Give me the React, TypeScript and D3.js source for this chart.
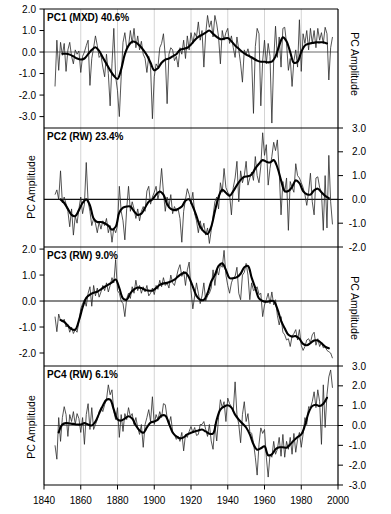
import React from "react";
import * as d3 from "d3";

// ---------- DATA ----------
const startYear = 1846;
const endYear = 1997;

const pc1Annual = [
  -1.6, 0.55, -0.85, 0.45,
  -0.15, 0.4, -0.9, 0.1, 0.45, -0.2, -0.55, 0.1, -0.1, 0.05,
  -0.95, -0.2, 0.0, 0.3, 0.55, -1.55, -0.3, 0.2, 0.75, 0.3,
  -0.25, -0.15, -0.7, -1.15, -0.1, -1.0, -2.5, -0.55, 1.1, -1.15,
  -1.8, -3.0, -1.15, 0.45, 0.9, 0.2, 0.25, 1.0, 0.4, 1.1,
  0.2, 0.75, 0.1, 0.5, -0.1, -0.3, -0.95, -0.2, -0.7, -3.1,
  -1.15, -0.55, -0.7, 0.2, 0.4, 0.85, -0.2, -2.4, -0.1, 0.2,
  0.1, -0.4, -0.2, -0.7, 0.2, -0.1, 0.55, -0.3, 0.75, 0.1,
  0.9, 0.4, 0.9, 0.7, 1.4, 0.55, 1.0, -0.7, 0.85, 1.7,
  1.15, 1.45, 0.7, 1.7, 1.3, 0.7, -0.55, 1.0, 0.55, 0.9,
  1.1, 0.4, 0.75, 0.2, -0.25, 0.7, 0.1, -0.55, -1.4, 0.1,
  -0.1, 0.15, -0.25, -0.3, -2.85, 0.25, 1.1, 0.85, -2.5, -0.4,
  0.55, -0.55, 0.4, -0.2, -3.3, -0.4, 1.2, -0.25, 0.7, -0.7,
  1.1, 1.15, 0.4, -0.85, -0.3, -1.6, -0.4, 0.1, -0.7, 1.5,
  -0.9, 0.85, 0.4, 1.0, 0.1, 1.1, 0.4, 1.0, 0.2, 1.1,
  0.55, 0.9, 0.4, 1.15, 0.85, -1.3, 0.2, 0.7,
];

const pc2Annual = [
  0.2, 0.4, 0.0, 1.2,
  -0.15, 0.1, -0.2, -0.5, -1.15, -0.4, -1.5, -0.7, -1.0, -0.4,
  0.1, -0.6, -0.2, 1.55, -0.1, -0.5, -1.1, -0.8, -1.0, -1.4,
  -0.95, -1.25, -0.9, -1.1, -0.8, -1.4, -1.1, -1.8, -1.2, -1.4,
  -1.1, 0.55, -0.5, -0.9, -1.7, -0.4, 0.55, -0.5, -0.1, -0.4,
  -0.8, -0.4, -0.9, -0.5, -0.3, -0.5, 0.35, 0.55, -0.2, 0.1,
  0.3, 0.55, 0.0, 0.4, 1.3, 0.3, -0.5, 0.1, -0.3, 0.2,
  -0.6, -0.3, -0.5, -0.4, -0.8, -1.8, -0.5, 0.0, 0.45, 0.2,
  -0.2, 0.3, -0.6, -0.9, -1.4, -0.9, -1.3, -1.0, -1.5, -1.2,
  -1.85, -1.3, -0.7, -0.1, 0.1, -0.4, 0.7, 0.3, 1.3, 0.5,
  0.3, 0.2, -0.65, 0.5, 0.9, 1.6, -0.1, 1.2, 0.7, 1.0,
  1.6, 0.6, 0.9, 1.15, 0.8, 1.8, 1.0, 0.7, 1.4, 2.8,
  1.85, 2.3, 0.6, 1.3, 1.8, 2.4, 2.05, 2.5, 1.2, -0.65,
  0.75, 0.3, 0.9, -1.3, 0.75, 0.5, 0.3, 1.5, 1.0, 0.9,
  0.7, 0.5, 0.2, -0.25, 0.3, 1.1, -0.1, -0.65, 0.9, 0.95,
  0.5, 0.3, -1.3, 1.0, -1.2, 1.85, -0.1, -1.05,
];

const pc3Annual = [
  -0.6, -1.18, -0.5, -0.75,
  -0.8, -0.7, -1.0, -0.9, -1.2, -1.0, -1.25, -1.1, -1.2, -0.8,
  -0.3, -0.1, 0.05, -0.2, 0.3, 0.55, -0.2, 0.6, 0.2, 0.5,
  0.15, 0.35, 0.6, 0.4, 0.7, 0.35, 0.6, 0.9, 0.7, 1.6,
  0.4, 0.3, 0.0, -0.1, -0.6, 0.1, 0.3, 0.1, 0.55, 0.3,
  0.8, 0.4, 0.6, 0.3, 0.55, 0.35, 0.6, 0.2, 0.3, 0.5,
  0.25, 0.6, 0.45, 0.8, 0.55, 0.9, 0.6, 0.7, 0.5, 1.0,
  0.7, 0.6, 0.9, 1.2, 1.4, 0.95, 1.15, 0.6, 1.2, 1.5,
  0.4, -0.3, 0.2, 0.7, 0.3, -0.1, 0.2, 0.7, 0.0, 0.2,
  0.3, 0.5, 1.2, 0.6, 1.2, 1.0, 1.4, 1.3, 1.95, 1.0,
  0.6, 0.3, 0.7, 0.9, 0.95, 1.3, 0.3, 0.05, 1.0, 1.1,
  1.45, 1.0, 0.05, 0.7, 0.4, 0.45, 0.55, 0.25, 0.3, -0.6,
  -0.15, 0.05, 0.3, -0.1, 0.35, -0.15, 0.05, -0.55, -0.92, -0.6,
  -1.2, -1.3, -1.5, -1.45, -1.75, -1.35, -1.25, -1.1, -1.5, -1.1,
  -1.7, -1.9, -1.75, -1.5, -1.45, -1.6, -1.3, -1.2, -1.7, -1.45,
  -1.75, -1.6, -1.8, -1.75, -1.9, -1.95, -2.0, -2.2,
];

const pc4Annual = [
  -1.0, -1.7, 0.4, -0.8,
  0.4, 0.95, 0.55, -0.55, 0.55, 0.2, 0.7, 0.05, 0.6, 0.35,
  -0.35, 0.4, -0.95, 0.55, 1.1, -0.2, 0.9, -0.2, 0.05, 0.3,
  0.7, 0.9, 0.7, 1.05, 1.3, 2.05, 1.55, 1.8, 0.7, 0.3,
  0.9, -0.6, 0.55, -0.3, 0.6, 0.3, 0.9, 0.45, 0.6, 0.05,
  0.4, -0.1, -0.45, 0.05, -1.1, 0.05, 0.4, 0.8, 0.2, 1.45,
  0.05, 0.55, 0.3, 0.7, 0.4, 1.1, 1.05, 0.4, 0.05, 0.45,
  -0.3, -0.45, -0.7, -0.55, -0.8, -0.35, -1.28, -0.45, -0.6, -0.3,
  -0.05, -0.35, -0.1, -0.5, -0.45, 0.05, 0.05, 0.2, -0.2, -0.55,
  0.05, -0.78, -1.2, 0.05, -0.78, 0.4, 1.3, 0.9, 1.2, 0.2,
  1.38, 1.1, 0.95, 0.7, 2.2, 0.55, 0.05, -0.87, 0.55, 1.2,
  0.2, 0.6, -0.3, -0.4, -0.87, -1.6, -2.5, -0.95, -0.12, -0.4,
  -0.2, -1.6, -2.6, -1.45, -1.6, -0.8, -1.45, -1.2, -0.6, -1.55,
  -0.45, -1.6, -0.8, -1.2, -0.6, -1.45, -0.4, -1.35, -0.7, -0.35,
  -1.1, -0.45, 0.4, 0.05, 0.95, 0.9, 1.2, 1.7, 0.9, 1.8,
  1.2, -0.95, 2.05, -0.1, 1.55, 2.45, 2.8, 1.9,
];

const pc1Smooth: [number, number][] = [
  [1850, -0.08], [1852, -0.08], [1854, -0.12], [1856, -0.2], [1858, -0.3], [1860, -0.35],
  [1862, -0.3], [1864, -0.1], [1866, 0.1], [1868, 0.22], [1870, 0.05], [1872, -0.25],
  [1874, -0.55], [1876, -0.85], [1878, -1.1], [1880, -1.25], [1882, -0.8], [1884, -0.1],
  [1886, 0.3], [1888, 0.48], [1890, 0.45], [1892, 0.3], [1894, 0.1], [1896, -0.15],
  [1898, -0.5], [1900, -0.85], [1902, -0.75], [1904, -0.5], [1906, -0.35], [1908, -0.3],
  [1910, -0.2], [1912, -0.1], [1914, 0.1], [1916, 0.15], [1918, 0.2], [1920, 0.35],
  [1922, 0.55], [1924, 0.7], [1926, 0.8], [1928, 0.9], [1930, 1.0], [1932, 0.85],
  [1934, 0.7], [1936, 0.6], [1938, 0.62], [1940, 0.65], [1942, 0.5], [1944, 0.3],
  [1946, 0.15], [1948, 0.0], [1950, -0.12], [1952, -0.2], [1954, -0.3], [1956, -0.4],
  [1958, -0.45], [1960, -0.45], [1962, -0.48], [1964, -0.45], [1966, -0.2], [1968, 0.3],
  [1970, 0.68], [1972, 0.5], [1974, 0.0], [1976, -0.5], [1978, -0.45], [1980, 0.0],
  [1982, 0.3], [1984, 0.38], [1986, 0.42], [1988, 0.45], [1990, 0.45], [1992, 0.45],
  [1994, 0.4],
];

const pc2Smooth: [number, number][] = [
  [1849, 0.0], [1851, -0.15], [1853, -0.4], [1855, -0.65], [1857, -0.7], [1859, -0.45],
  [1861, -0.15], [1863, 0.0], [1865, -0.25], [1867, -0.8], [1869, -0.95], [1871, -0.95],
  [1873, -1.0], [1875, -1.1], [1877, -1.27], [1879, -1.15], [1881, -0.55], [1883, -0.35],
  [1885, -0.3], [1887, -0.3], [1889, -0.5], [1891, -0.65], [1893, -0.6], [1895, -0.35],
  [1897, -0.1], [1899, 0.0], [1901, 0.2], [1903, 0.33], [1905, 0.2], [1907, -0.2],
  [1909, -0.4], [1911, -0.45], [1913, -0.4], [1915, -0.3], [1917, -0.05], [1919, 0.0],
  [1921, -0.3], [1923, -0.7], [1925, -1.15], [1927, -1.35], [1929, -1.45], [1931, -1.15],
  [1933, -0.5], [1935, 0.1], [1937, 0.4], [1939, 0.28], [1941, 0.15], [1943, 0.35],
  [1945, 0.6], [1947, 0.82], [1949, 0.95], [1951, 0.97], [1953, 1.05], [1955, 1.3],
  [1957, 1.5], [1959, 1.65], [1961, 1.58], [1963, 1.55], [1965, 1.65], [1967, 1.35],
  [1969, 0.8], [1971, 0.35], [1973, 0.35], [1975, 0.52], [1977, 0.8], [1979, 0.68],
  [1981, 0.35], [1983, 0.22], [1985, 0.2], [1987, 0.38], [1989, 0.45], [1991, 0.3],
  [1993, 0.15], [1995, 0.05],
];

const pc3Smooth: [number, number][] = [
  [1849, -0.73], [1851, -0.8], [1853, -0.95], [1855, -1.08], [1857, -1.1], [1859, -0.75],
  [1861, -0.25], [1863, 0.12], [1865, 0.25], [1867, 0.32], [1869, 0.36], [1871, 0.45],
  [1873, 0.55], [1875, 0.63], [1877, 0.72], [1879, 0.83], [1881, 0.5], [1883, 0.1],
  [1885, 0.05], [1887, 0.3], [1889, 0.45], [1891, 0.52], [1893, 0.5], [1895, 0.43],
  [1897, 0.4], [1899, 0.4], [1901, 0.5], [1903, 0.62], [1905, 0.68], [1907, 0.7],
  [1909, 0.75], [1911, 0.82], [1913, 0.95], [1915, 1.05], [1917, 1.09], [1919, 0.9],
  [1921, 0.55], [1923, 0.2], [1925, 0.05], [1927, 0.05], [1929, 0.3], [1931, 0.75],
  [1933, 1.0], [1935, 1.35], [1937, 1.45], [1939, 1.2], [1941, 0.88], [1943, 0.88],
  [1945, 0.92], [1947, 1.05], [1949, 1.3], [1951, 1.35], [1953, 0.9], [1955, 0.5],
  [1957, 0.1], [1959, 0.0], [1961, -0.03], [1963, 0.0], [1965, 0.0], [1967, -0.3],
  [1969, -0.75], [1971, -1.05], [1973, -1.3], [1975, -1.37], [1977, -1.35], [1979, -1.45],
  [1981, -1.65], [1983, -1.7], [1985, -1.62], [1987, -1.52], [1989, -1.52], [1991, -1.62],
  [1993, -1.75], [1995, -1.82],
];

const pc4Smooth: [number, number][] = [
  [1848, -0.35], [1850, 0.05], [1852, 0.12], [1854, 0.1], [1856, 0.08], [1858, 0.05],
  [1860, 0.05], [1862, 0.12], [1864, 0.05], [1866, 0.0], [1868, 0.2], [1870, 0.6],
  [1872, 1.0], [1874, 1.3], [1876, 1.3], [1878, 0.8], [1880, 0.3], [1882, 0.25],
  [1884, 0.35], [1886, 0.47], [1888, 0.35], [1890, 0.0], [1892, -0.25], [1894, -0.37],
  [1896, -0.1], [1898, 0.15], [1900, 0.2], [1902, 0.3], [1904, 0.5], [1906, 0.5],
  [1908, 0.1], [1910, -0.35], [1912, -0.55], [1914, -0.65], [1916, -0.6], [1918, -0.45],
  [1920, -0.37], [1922, -0.3], [1924, -0.25], [1926, -0.2], [1928, -0.3], [1930, -0.42],
  [1932, -0.4], [1934, 0.3], [1936, 0.8], [1938, 0.95], [1940, 1.02], [1942, 0.9],
  [1944, 0.55], [1946, 0.3], [1948, 0.1], [1950, -0.1], [1952, -0.45], [1954, -0.95],
  [1956, -1.22], [1958, -1.15], [1960, -1.05], [1962, -1.5], [1964, -1.45], [1966, -1.2],
  [1968, -1.1], [1970, -1.1], [1972, -1.12], [1974, -0.95], [1976, -0.75], [1978, -0.58],
  [1980, -0.45], [1982, 0.0], [1984, 0.65], [1986, 0.98], [1988, 1.05], [1990, 0.98],
  [1992, 1.1], [1994, 1.4],
];

const titles = ["PC1 (MXD) 40.6%", "PC2 (RW) 23.4%", "PC3 (RW) 9.0%", "PC4 (RW) 6.1%"];
const pc1Ticks = [2, 1, 0, -1, -2, -3];
const pc2Ticks = [3, 2, 1, 0, -1, -2];
const pc3Ticks = [2, 1, 0, -1, -2];
const pc4Ticks = [3, 2, 1, 0, -1, -2, -3];
const xTicks = [1840, 1860, 1880, 1900, 1920, 1940, 1960, 1980, 2000];
const gridYears = [1860, 1880, 1900, 1920, 1940, 1960, 1980];
const yLabel = "PC Amplitude";

// ---------- LAYOUT ----------
const W = 391;
const H = 514;
const left = 44;
const right = 338;
const font = "'Liberation Sans', Arial, Helvetica, sans-serif";

const years = d3.range(startYear, endYear + 1);
const x = d3.scaleLinear().domain([1840, 2000]).range([left, right]);

type Panel = {
  annual: number[];
  smooth: [number, number][];
  title: string;
  top: number;
  bottom: number;
  domain: [number, number];
  ticks: number[];
  tickSide: "left" | "right";
  zeroColor: string;
  labelY: number;
};

const panels: Panel[] = [
  { annual: pc1Annual, smooth: pc1Smooth, title: titles[0], top: 9, bottom: 128, domain: [-3.53, 2.0], ticks: pc1Ticks, tickSide: "left", zeroColor: "#6a6a6a", labelY: 64 },
  { annual: pc2Annual, smooth: pc2Smooth, title: titles[1], top: 128, bottom: 247, domain: [-2, 3], ticks: pc2Ticks, tickSide: "right", zeroColor: "#111", labelY: 187 },
  { annual: pc3Annual, smooth: pc3Smooth, title: titles[2], top: 247, bottom: 366, domain: [-2.5, 2.08], ticks: pc3Ticks, tickSide: "left", zeroColor: "#111", labelY: 308 },
  { annual: pc4Annual, smooth: pc4Smooth, title: titles[3], top: 366, bottom: 485, domain: [-3, 3], ticks: pc4Ticks, tickSide: "right", zeroColor: "#6a6a6a", labelY: 427 },
];

function PanelView({ p }: { p: Panel }) {
  const y = d3.scaleLinear().domain(p.domain).range([p.bottom, p.top]);
  const annualLine = d3
    .line<number>()
    .x((_, i) => x(years[i]))
    .y((d) => y(d));
  const smoothLine = d3
    .line<[number, number]>()
    .x((d) => x(d[0]))
    .y((d) => y(d[1]))
    .curve(d3.curveCatmullRom.alpha(0.5));
  const labelOnRight = p.tickSide === "left";
  const labelX = labelOnRight ? 355 : 31;
  return (
    <g>
      <line x1={left} x2={right} y1={y(0)} y2={y(0)} stroke={p.zeroColor} strokeWidth={1.1} />
      <path d={annualLine(p.annual) || ""} fill="none" stroke="#2a2a2a" strokeWidth={0.8} strokeLinejoin="round" />
      <path d={smoothLine(p.smooth) || ""} fill="none" stroke="#000" strokeWidth={2.1} strokeLinejoin="round" strokeLinecap="round" />
      <text x={47} y={p.top + 12} fontFamily={font} fontSize={10} fontWeight="bold" fill="#000">
        {p.title}
      </text>
      {p.ticks.map((t) => (
        <g key={t}>
          {p.tickSide === "left" ? (
            <>
              <line x1={left - 4.5} x2={left} y1={y(t)} y2={y(t)} stroke="#000" strokeWidth={1} />
              <text x={36} y={y(t)} dy="0.35em" textAnchor="end" fontFamily={font} fontSize={10} fill="#000">
                {t.toFixed(1)}
              </text>
            </>
          ) : (
            <>
              <line x1={right} x2={right + 5} y1={y(t)} y2={y(t)} stroke="#000" strokeWidth={1} />
              <text x={366} y={y(t)} dy="0.35em" textAnchor="end" fontFamily={font} fontSize={10} fill="#000">
                {t.toFixed(1)}
              </text>
            </>
          )}
        </g>
      ))}
      <text
        transform={`translate(${labelX},${p.labelY}) rotate(${labelOnRight ? 90 : -90})`}
        textAnchor="middle"
        dy="0.35em"
        fontFamily={font}
        fontSize={10.5}
        fill="#000"
      >
        {yLabel}
      </text>
    </g>
  );
}

export default function App() {
  const top = panels[0].top;
  const bottom = panels[panels.length - 1].bottom;
  return (
    <svg width={W} height={H} style={{ position: "absolute", left: 0, top: 0, background: "#fff" }}>
      <rect x={0} y={0} width={W} height={H} fill="#fff" />
      {gridYears.map((g) => (
        <line key={g} x1={x(g)} x2={x(g)} y1={top} y2={bottom} stroke="#d4d4d4" strokeWidth={1} />
      ))}
      {panels.map((p, i) => (
        <PanelView key={i} p={p} />
      ))}
      {/* frame */}
      <line x1={left} x2={right} y1={top} y2={top} stroke="#000" strokeWidth={1} />
      {panels.slice(1).map((p, i) => (
        <line key={i} x1={left} x2={right} y1={p.top} y2={p.top} stroke="#000" strokeWidth={1.2} />
      ))}
      <line x1={left} x2={right} y1={bottom} y2={bottom} stroke="#000" strokeWidth={1.2} />
      <line x1={left} x2={left} y1={top} y2={bottom} stroke="#000" strokeWidth={1.2} />
      <line x1={right} x2={right} y1={top} y2={bottom} stroke="#000" strokeWidth={1.2} />
      {xTicks.map((t) => (
        <g key={t}>
          <line x1={x(t)} x2={x(t)} y1={bottom} y2={bottom + 4.5} stroke="#000" strokeWidth={1} />
          <text x={x(t)} y={504} textAnchor="middle" fontFamily={font} fontSize={10} fill="#000">
            {t}
          </text>
        </g>
      ))}
    </svg>
  );
}
